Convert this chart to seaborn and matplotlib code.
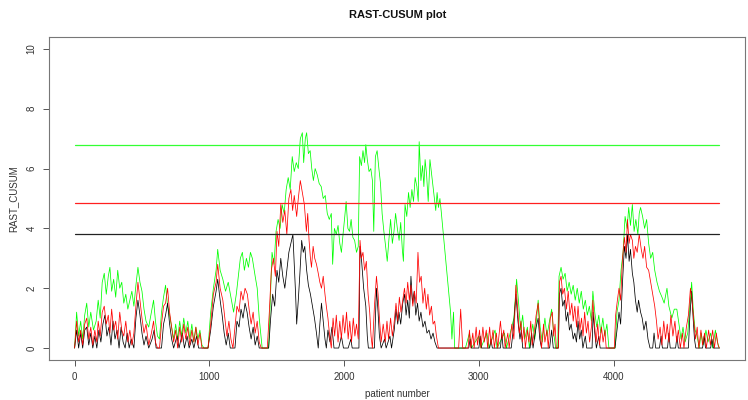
import matplotlib
matplotlib.use("Agg")
import matplotlib.pyplot as plt
import seaborn as sns

# thresholds (control limits) for the three CUSUM charts
h_green = 6.8
h_red = 4.85
h_black = 3.8
n_patients = 4784

# CUSUM values (patient number, score)
green_x = [0, 15, 30, 45, 60, 75, 90, 105, 120, 140, 160, 175, 190, 205, 220, 235, 250, 262, 275, 290,
           305, 320, 335, 350, 365, 380, 395, 410, 425, 440, 455, 470, 485, 500, 515, 530, 550, 570, 586, 600,
           615, 630, 645, 660, 675, 690, 705, 720, 735, 750, 765, 780, 795, 810, 825, 840, 855, 870, 885, 900,
           915, 930, 945, 960, 990,
           1010, 1030, 1050, 1062, 1080, 1100, 1120, 1140, 1160, 1180, 1200, 1215, 1230, 1245, 1260, 1275, 1290, 1305, 1319, 1340,
           1355, 1370, 1392, 1440, 1465,
           1480, 1495, 1510, 1525, 1540, 1555, 1570, 1585, 1600, 1615, 1630, 1645, 1660, 1675, 1690, 1700, 1712, 1722, 1735, 1748,
           1760, 1772, 1785, 1800, 1815, 1830, 1845, 1860, 1875, 1890, 1905, 1915, 1928, 1942, 1955, 1968, 1980, 1992, 2005, 2015,
           2028, 2040, 2052, 2065, 2078, 2092, 2105, 2115, 2128, 2140, 2152, 2161, 2172, 2185, 2198, 2210, 2220, 2232, 2245, 2258,
           2270, 2282, 2295, 2308, 2320, 2332, 2345, 2358, 2370, 2382, 2395, 2408, 2420, 2432, 2440, 2452, 2465, 2478, 2490, 2503,
           2515, 2527, 2540, 2550, 2557, 2570, 2582, 2592, 2601, 2612, 2624, 2637, 2650, 2660, 2670, 2680, 2690, 2700, 2711, 2720,
           2790, 2800, 2812, 2820,
           2900, 2930, 2945, 3000, 3015, 3060, 3075, 3120, 3135, 3190, 3205, 3260, 3280, 3295, 3310, 3325, 3340, 3360, 3375, 3400,
           3415, 3440, 3455, 3470, 3490, 3505, 3520, 3540, 3555, 3570, 3585,
           3595, 3610, 3625, 3640, 3655, 3670, 3685, 3700, 3715, 3730, 3745, 3760, 3775, 3790, 3805, 3820, 3835, 3846, 3860, 3875,
           3890, 3905, 3920, 3935, 3950, 3965, 3990, 4010,
           4025, 4040, 4055, 4070, 4085, 4100, 4112, 4125, 4139, 4152, 4165, 4180, 4190, 4200, 4215, 4230, 4245, 4260, 4275, 4290,
           4305, 4322, 4340, 4359, 4375, 4396, 4410, 4432, 4450, 4469, 4485, 4500, 4515, 4530, 4550, 4565, 4579, 4592, 4605, 4620,
           4635, 4650, 4665, 4685, 4700, 4720, 4735, 4755, 4770, 4784]
green_y = [0, 1.2, 0.4, 0.9, 0.3, 1.1, 1.5, 0.7, 1.2, 0.6, 0.9, 1.6, 1.0, 2.2, 2.5, 1.8, 2.4, 2.7, 1.9, 2.3,
           1.7, 2.6, 2.0, 2.2, 1.5, 1.8, 1.3, 1.6, 1.9, 1.4, 2.1, 2.7, 2.2, 1.9, 1.3, 0.9, 0.7, 1.2, 1.6, 0.9,
           0.4, 0.3, 1.2, 1.7, 2.1, 1.4, 1.1, 0.7, 0.3, 0.8, 0.3, 0.9, 0.4, 1.0, 0.5, 0.9, 0.3, 0.8, 0.2, 0.7,
           0.3, 0.6, 0.1, 0, 0,
           1.2, 2.0, 2.6, 3.3, 2.6, 2.3, 1.9, 2.2, 1.7, 1.2, 1.8, 2.4, 3.0, 3.2, 2.6, 3.0, 2.7, 3.2, 3.0, 2.4,
           2.0, 1.0, 0, 0, 3.2,
           2.8, 3.9, 4.3, 4.0, 4.8, 4.5, 5.3, 5.7, 5.3, 6.4, 5.9, 6.2, 6.0, 7.0, 7.2, 6.2, 7.0, 7.2, 6.5, 6.6,
           6.0, 5.6, 6.0, 5.8, 5.5, 5.4, 5.0, 5.1, 4.5, 4.3, 4.5, 2.8, 4.0, 3.8, 4.1, 3.5, 3.2, 3.8, 4.4, 4.9,
           4.0, 3.9, 4.3, 3.7, 3.6, 3.2, 3.4, 6.4, 6.1, 6.6, 6.2, 6.8, 6.3, 5.9, 6.0, 5.6, 3.9, 6.4, 6.6, 6.0,
           5.5, 4.5, 3.9, 3.4, 2.9, 3.6, 4.3, 3.5, 3.9, 4.5, 4.0, 3.6, 4.2, 3.3, 2.9, 4.8, 4.4, 5.2, 4.7, 5.3,
           4.9, 5.7, 5.4, 4.9, 6.9, 5.6, 6.1, 5.4, 6.3, 5.8, 4.9, 6.3, 5.8, 5.4, 5.0, 4.6, 5.2, 4.7, 5.0, 4.6,
           1.2, 0.3, 1.2, 0,
           0, 0.5, 0, 0.4, 0, 0.5, 0, 0.6, 0, 0.5, 0, 1.0, 2.3, 1.5, 0.6, 1.1, 0.3, 0.7, 0, 0.8,
           0.3, 1.6, 0.7, 0.2, 1.0, 0.4, 0.8, 1.3, 0.5, 0, 0,
           2.4, 2.7, 2.3, 2.5, 1.9, 2.2, 1.8, 2.1, 1.6, 2.0, 1.5, 1.9, 1.3, 1.6, 1.1, 1.4, 0.9, 1.9, 1.2, 0.7,
           1.1, 0.5, 1.0, 0.4, 0.8, 0, 0, 0,
           1.2, 1.6, 2.6, 3.2, 4.4, 4.0, 4.7, 4.1, 4.8, 3.9, 4.3, 3.8, 4.5, 4.7, 4.4, 4.0, 4.3, 3.5, 3.0, 3.2,
           2.6, 2.2, 1.9, 1.7, 1.5, 2.0, 1.4, 1.0, 1.3, 1.3, 0.8, 0.3, 0.7, 0.2, 0.5, 1.4, 2.2, 1.2, 0.6, 0.4,
           0, 0.5, 0.1, 0.6, 0.2, 0.5, 0, 0.6, 0.2, 0]

red_x = [0, 15, 30, 45, 60, 75, 90, 105, 120, 135, 150, 165, 175, 190, 205, 220, 235, 250, 262, 275,
         290, 305, 320, 335, 350, 365, 380, 395, 410, 425, 440, 455, 470, 485, 500, 515, 530, 550, 570, 586,
         600, 615, 630, 645, 660, 675, 690, 705, 720, 735, 750, 765, 780, 795, 810, 825, 840, 855, 870, 885,
         900, 915, 930, 945, 990,
         1010, 1030, 1050, 1062, 1080, 1100, 1115, 1130, 1145, 1160, 1175, 1190, 1205, 1220, 1235, 1250, 1265, 1282, 1295, 1310,
         1325, 1340, 1355, 1370, 1385, 1430, 1445, 1460, 1475, 1490,
         1502, 1515, 1530, 1545, 1560, 1575, 1590, 1605, 1618, 1630, 1648, 1660, 1675, 1690, 1705, 1720, 1730, 1740, 1750, 1758,
         1770, 1782, 1795, 1808, 1820, 1832, 1845, 1858, 1868, 1880, 1895, 1905, 1918, 1930, 1942, 1955, 1968, 1980, 1992, 2005,
         2018, 2030, 2042, 2055, 2068, 2080, 2092, 2105, 2118, 2128, 2140, 2152, 2165, 2178, 2190, 2200, 2210, 2225, 2240, 2252,
         2262, 2275, 2290, 2305, 2318, 2330, 2345, 2358, 2370, 2385, 2398, 2410, 2422, 2435, 2448, 2460, 2472, 2484, 2496, 2510,
         2522, 2535, 2548, 2560, 2572, 2585, 2598, 2610, 2622, 2635, 2648, 2660, 2672, 2685, 2700,
         2850, 2865, 2880, 2920, 2930, 2940, 2955, 2965, 2980, 2990, 3005, 3015, 3030, 3040, 3055, 3065, 3080, 3090, 3105, 3115,
         3130, 3140, 3160, 3172, 3185, 3195, 3215, 3225, 3245, 3260, 3275, 3290, 3300, 3312, 3322, 3335, 3345, 3360, 3372, 3385,
         3395, 3410, 3425, 3440, 3452, 3465, 3480, 3490, 3505, 3515, 3530, 3545, 3555, 3565, 3575, 3590,
         3598, 3610, 3622, 3635, 3650, 3663, 3676, 3690, 3700, 3712, 3725, 3736, 3750, 3762, 3773, 3785, 3798, 3810, 3822, 3835,
         3846, 3858, 3870, 3882, 3895, 3910, 3922, 3935, 3945, 3990, 4005,
         4015, 4028, 4040, 4052, 4066, 4080, 4092, 4103, 4115, 4125, 4139, 4150, 4162, 4175, 4190, 4205, 4218, 4230, 4245, 4260,
         4275, 4290, 4305, 4318, 4330, 4345, 4358, 4372, 4385, 4398, 4410, 4425, 4440, 4455, 4468, 4480, 4495, 4510, 4522, 4540,
         4555, 4570, 4582, 4595, 4608, 4620, 4632, 4648, 4660, 4675, 4688, 4705, 4718, 4735, 4748, 4762, 4775, 4784]
red_y = [0, 0.9, 0.2, 0.6, 0.1, 0.8, 1.0, 0.3, 0.7, 0.1, 0.6, 0.2, 0.9, 0.4, 1.2, 1.4, 0.8, 1.1, 0.5, 1.3,
         0.6, 0.9, 0.3, 1.2, 0.6, 0.4, 0.9, 0.2, 0.6, 0.1, 0.5, 1.4, 2.2, 1.6, 1.0, 0.5, 0.8, 0.1, 0.5, 0.9,
         0.2, 0, 0, 0.8, 1.4, 1.5, 2.0, 1.2, 0.7, 0.2, 0.6, 0, 0.7, 0.2, 0.8, 0.3, 0.7, 0.1, 0.6, 0.2,
         0.7, 0.1, 0.5, 0, 0,
         0.8, 1.8, 2.2, 2.8, 2.0, 1.6, 1.0, 0.4, 0.9, 0.3, 0, 0.7, 1.4, 1.2, 1.9, 1.6, 2.0, 1.8, 1.3, 0.8,
         1.2, 0.5, 0.9, 0.2, 0, 0, 1.2, 2.6, 3.0, 2.4,
         3.9, 3.4, 4.8, 4.2, 4.6, 3.8, 5.0, 5.3, 4.6, 5.1, 4.4, 5.0, 5.6, 5.2, 4.8, 3.9, 4.5, 3.6, 3.0, 2.7,
         3.4, 3.0, 2.8, 2.5, 2.2, 2.0, 2.4, 1.8, 1.4, 1.0, 0.3, 0, 1.0, 0.4, 1.1, 0.2, 0.9, 0.3, 1.1, 0.5,
         1.2, 0.3, 0.9, 0.2, 1.0, 0.4, 0.8, 0.3, 3.6, 3.0, 3.2, 2.6, 2.9, 1.8, 1.2, 0.4, 0, 1.4, 2.4, 1.8,
         1.0, 0.2, 0.8, 0.2, 0.9, 0.3, 1.0, 0.4, 0.8, 1.5, 0.9, 1.7, 1.2, 1.6, 2.0, 1.5, 2.2, 1.6, 2.1, 1.4,
         1.9, 1.5, 3.2, 2.2, 2.4, 1.5, 2.0, 1.3, 1.8, 1.1, 1.4, 0.8, 0.9, 0.4, 0,
         0, 1.3, 0, 0, 0.6, 0, 0.5, 0, 0.7, 0.1, 0.6, 0, 0.7, 0.2, 0.6, 0, 0.7, 0.1, 0.6, 0,
         0.5, 0, 0.9, 0.3, 0.6, 0, 0.5, 0, 0.8, 0.3, 2.1, 1.2, 0.5, 0.9, 0.2, 0.7, 0, 0.6, 0.2, 0.9,
         0.1, 0.5, 1.1, 1.5, 0.6, 0, 0.8, 0.2, 0.6, 0, 1.0, 1.2, 0.4, 0.8, 0, 0,
         2.2, 2.4, 1.8, 2.0, 1.3, 1.9, 1.1, 1.5, 0.9, 1.4, 0.7, 1.4, 0.6, 1.0, 0.4, 1.2, 0.5, 0.9, 0.2, 0.7,
         1.6, 0.8, 0.2, 0.8, 0.1, 0.7, 0.2, 0.6, 0, 0, 0,
         1.1, 1.6, 2.0, 1.6, 3.0, 3.7, 3.2, 4.3, 3.5, 3.8, 3.6, 3.0, 3.4, 3.2, 3.8, 3.3, 3.0, 3.4, 2.7, 2.6,
         2.2, 1.8, 1.4, 0.9, 0.3, 0.7, 0.1, 0.9, 0.3, 0.8, 0.2, 1.1, 0.4, 0.9, 0.2, 0.6, 0, 0.5, 0, 0.7,
         1.1, 2.0, 1.6, 0.9, 0.3, 0.7, 0, 0.6, 0.1, 0.5, 0, 0.6, 0.1, 0.6, 0, 0.5, 0.1, 0]

black_x = [0, 15, 30, 45, 60, 75, 90, 105, 120, 135, 150, 165, 180, 195, 210, 225, 240, 255, 270, 285,
           300, 315, 330, 345, 360, 375, 390, 405, 420, 440, 455, 470, 485, 500, 515, 530, 550, 575, 590, 605,
           645, 660, 675, 690, 705, 720, 735, 760, 775, 800, 815, 835, 850, 870, 885, 905, 920, 990,
           1010, 1030, 1050, 1062, 1080, 1095, 1110, 1125, 1140, 1155, 1190, 1205, 1220, 1235, 1250, 1265, 1280, 1295, 1310, 1325,
           1340, 1355, 1370, 1440, 1455, 1470, 1485, 1502,
           1515, 1530, 1545, 1560, 1575, 1590, 1605, 1620, 1632, 1640, 1648, 1660, 1672, 1685, 1697, 1708, 1722, 1735, 1750, 1765,
           1780, 1795, 1808, 1820, 1832, 1845, 1858, 1868, 1880, 1895, 1910, 1925, 1960, 1980, 1995, 2030, 2050, 2060, 2110, 2118,
           2130, 2145, 2161, 2172, 2180, 2225, 2240, 2252, 2262, 2275, 2300, 2312, 2340, 2352, 2372, 2385, 2398, 2407, 2420, 2435,
           2448, 2460, 2472, 2484, 2496, 2508, 2520, 2532, 2545, 2557, 2570, 2585, 2600, 2615, 2630, 2645, 2660, 2674, 2690,
           2925, 2935, 2945, 3000, 3010, 3020, 3080, 3090, 3100, 3160, 3170, 3180, 3240, 3255, 3275, 3290, 3305, 3315, 3325, 3380,
           3392, 3402, 3425, 3440, 3452, 3465, 3525, 3540, 3552, 3590,
           3598, 3610, 3622, 3635, 3648, 3660, 3672, 3685, 3700, 3712, 3724, 3736, 3748, 3760, 3772, 3790, 3800, 3840, 3848, 3860,
           3872, 3890, 3900, 3990, 4010,
           4025, 4040, 4052, 4066, 4080, 4092, 4103, 4115, 4125, 4139, 4150, 4162, 4175, 4185, 4200, 4212, 4225, 4240, 4255, 4270,
           4290, 4300, 4312, 4340, 4352, 4362, 4400, 4410, 4420, 4460, 4470, 4480, 4555, 4565, 4579, 4590, 4600, 4610, 4660, 4672,
           4682, 4720, 4730, 4740, 4784]
black_y = [0, 0.6, 0, 0.5, 0, 0.6, 0.7, 0.1, 0.5, 0, 0.4, 0, 0.6, 0.2, 0.8, 1.1, 0.4, 0.7, 0.1, 0.9,
           0.3, 0.6, 0, 0.7, 0.2, 0, 0.5, 0, 0.3, 0, 1.0, 1.6, 1.1, 0.5, 0.1, 0.4, 0, 0.3, 0.6, 0,
           0, 0.8, 1.1, 1.5, 0.8, 0.3, 0, 0.4, 0, 0.5, 0, 0.4, 0, 0.3, 0, 0.4, 0, 0,
           0.6, 1.4, 1.9, 2.3, 1.6, 1.1, 0.5, 0.1, 0.5, 0, 0, 0.9, 0.7, 1.3, 1.0, 1.5, 1.2, 0.7, 0.3, 0.7,
           0.1, 0.4, 0, 0, 1.0, 1.8, 1.4, 2.6,
           2.2, 3.0, 2.4, 2.0, 2.6, 3.2, 3.5, 3.8, 2.6, 1.8, 0.8, 1.6, 2.5, 3.6, 3.2, 3.4, 2.6, 2.1, 1.8, 1.4,
           1.0, 0.5, 0, 0.8, 1.5, 0.9, 0.3, 0, 0.6, 0.2, 0.7, 0, 0, 0.4, 0, 0, 0.3, 0, 0, 3.4,
           2.9, 2.0, 1.4, 0.4, 0, 0, 2.0, 1.2, 0.4, 0, 0.3, 0, 0.4, 0, 0.6, 1.3, 0.8, 1.2, 0.8, 1.5,
           1.8, 1.1, 1.6, 1.0, 2.4, 1.5, 1.9, 1.1, 1.5, 0.9, 1.2, 0.7, 0.9, 0.5, 0.6, 0.3, 0.5, 0.2, 0,
           0, 0.3, 0, 0, 0.4, 0, 0, 0.3, 0, 0, 0.5, 0, 0, 0.6, 1.8, 0.9, 0.3, 0.6, 0, 0,
           0.5, 0, 0.7, 1.0, 0.3, 0, 0, 0.6, 0, 0,
           1.8, 2.0, 1.4, 1.6, 0.9, 1.2, 0.6, 0.8, 0.3, 0.5, 0.2, 0.9, 0.3, 0.6, 0, 0.4, 0, 0, 1.2, 0.5,
           0, 0.4, 0, 0, 0,
           0.6, 1.2, 0.8, 2.2, 3.4, 3.0, 3.8, 2.9, 3.3, 2.5, 2.2, 1.6, 1.2, 1.6, 1.2, 1.0, 0.6, 0.9, 0.3, 0,
           0, 0.5, 0, 0, 0.4, 0, 0, 0.5, 0, 0, 0.4, 0, 0, 1.0, 1.9, 1.0, 0.3, 0, 0, 0.4,
           0, 0, 0.3, 0, 0]

sns.set_theme(style="ticks")
plt.rcParams["font.family"] = ["Liberation Sans Narrow", "Liberation Sans", "DejaVu Sans"]

fig = plt.figure(figsize=(7.48, 4.0), dpi=100)
ax = fig.add_axes([0.0655, 0.1, 0.9305, 0.8075])

lw = 0.55
sns.lineplot(x=green_x, y=green_y, color="#00ff00", lw=lw, sort=False, estimator=None, ax=ax)
sns.lineplot(x=black_x, y=black_y, color="#000000", lw=lw, sort=False, estimator=None, ax=ax)
sns.lineplot(x=red_x, y=red_y, color="#ff0000", lw=lw, sort=False, estimator=None, ax=ax)

# control limits
for h, col in [(h_green, "#33ff33"), (h_black, "#222222"), (h_red, "#ff2020")]:
    sns.lineplot(x=[0, n_patients], y=[h, h], color=col, lw=0.9, ax=ax)

ax.set_xlim(-190, 4975)
ax.set_ylim(-0.4, 10.4)
ax.set_xticks([0, 1000, 2000, 3000, 4000])
ax.set_yticks([0, 2, 4, 6, 8, 10])
ax.tick_params(axis="both", labelsize=7, length=4, width=0.7, color="#555555",
               labelcolor="#333333", direction="out", pad=5)
for lab in ax.get_yticklabels():
    lab.set_rotation(90)
    lab.set_va("center")
for sp in ax.spines.values():
    sp.set_visible(True)
    sp.set_color("#777777")
    sp.set_linewidth(0.8)

ax.set_xlabel("patient number", fontsize=7, color="#333333", labelpad=5)
ax.set_ylabel("RAST_CUSUM", fontsize=7, color="#333333", labelpad=6)
fig.suptitle("RAST-CUSUM plot", x=0.531, y=0.975, fontsize=8, fontweight="bold", color="#111111")

plt.savefig("out.png", dpi=100)
